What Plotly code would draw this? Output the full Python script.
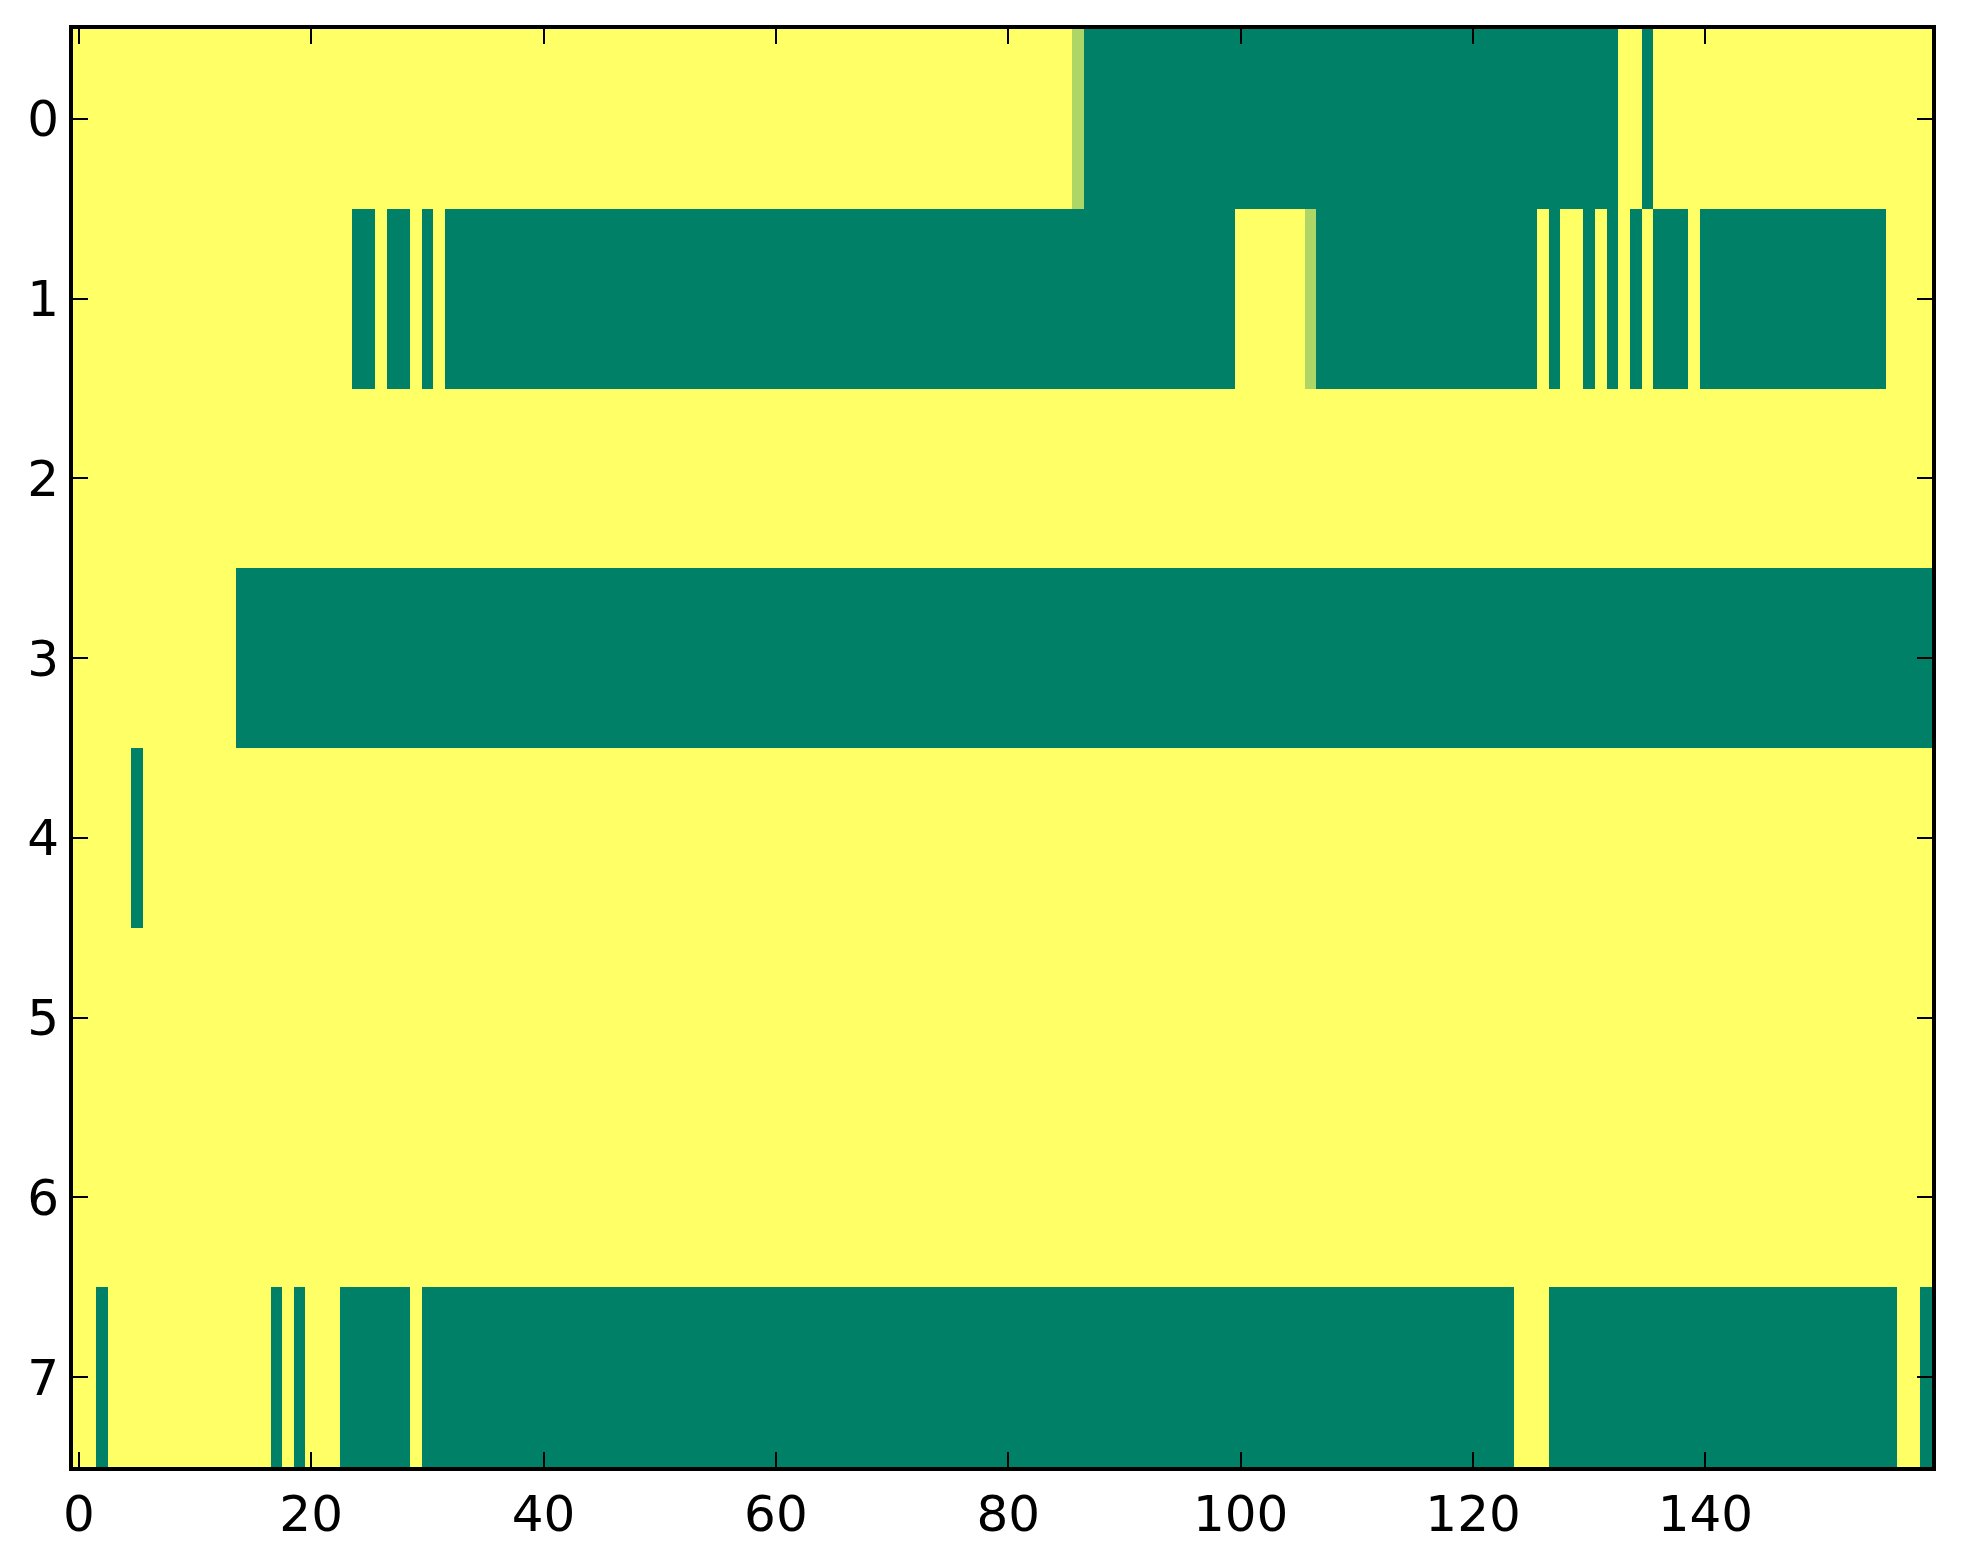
import plotly.graph_objects as go

# Run-length encoded rows: (value, count); 1 = yellow, 0 = green
row0_runs = [(1, 86), (0.68, 1), (0, 46), (1, 2), (0, 1), (1, 24)]
row1_runs = [(1, 24), (0, 2), (1, 1), (0, 2), (1, 1), (0, 1), (1, 1), (0, 68),
             (1, 6), (0.68, 1), (0, 19), (1, 1), (0, 1), (1, 2), (0, 1), (1, 1),
             (0, 1), (1, 1), (0, 1), (1, 1), (0, 3), (1, 1), (0, 16), (1, 4)]
row2_runs = [(1, 160)]
row3_runs = [(1, 14), (0, 146)]
row4_runs = [(1, 5), (0, 1), (1, 154)]
row5_runs = [(1, 160)]
row6_runs = [(1, 160)]
row7_runs = [(1, 2), (0, 1), (1, 14), (0, 1), (1, 1), (0, 1), (1, 3), (0, 6),
             (1, 1), (0, 94), (1, 3), (0, 30), (1, 2), (0, 1)]

rows = [row0_runs, row1_runs, row2_runs, row3_runs, row4_runs, row5_runs, row6_runs, row7_runs]


def expand(runs):
    out = []
    for v, n in runs:
        out.extend([v] * n)
    return out


z = [expand(r) for r in rows]
ncols = len(z[0])
x_vals = list(range(ncols))
y_vals = list(range(len(z)))

x_ticks = [0, 20, 40, 60, 80, 100, 120, 140]
y_ticks = [0, 1, 2, 3, 4, 5, 6, 7]

fig = go.Figure(go.Heatmap(
    z=z, x=x_vals, y=y_vals,
    colorscale=[[0, "#008066"], [1, "#FFFF66"]],
    zmin=0, zmax=1, showscale=False, hoverinfo="skip",
))

font = dict(family="DejaVu Sans", size=50, color="black")

fig.update_layout(
    width=1955, height=1556,
    margin=dict(l=65, r=31, t=21, b=97),
    paper_bgcolor="white", plot_bgcolor="white",
    font=font,
)
fig.update_xaxes(
    range=[-0.5, ncols - 0.5], tickvals=x_ticks, ticktext=[str(t) for t in x_ticks],
    ticks="inside", ticklen=15, tickwidth=2, tickcolor="black",
    showline=True, linecolor="black", linewidth=4, mirror="allticks",
    showgrid=False, zeroline=False, tickfont=font,
)
fig.update_yaxes(
    range=[len(z) - 0.5, -0.5], tickvals=y_ticks, ticktext=[str(t) for t in y_ticks],
    ticks="inside", ticklen=15, tickwidth=2, tickcolor="black",
    showline=True, linecolor="black", linewidth=4, mirror="allticks",
    showgrid=False, zeroline=False, tickfont=font,
)

fig.write_html("out.html")
